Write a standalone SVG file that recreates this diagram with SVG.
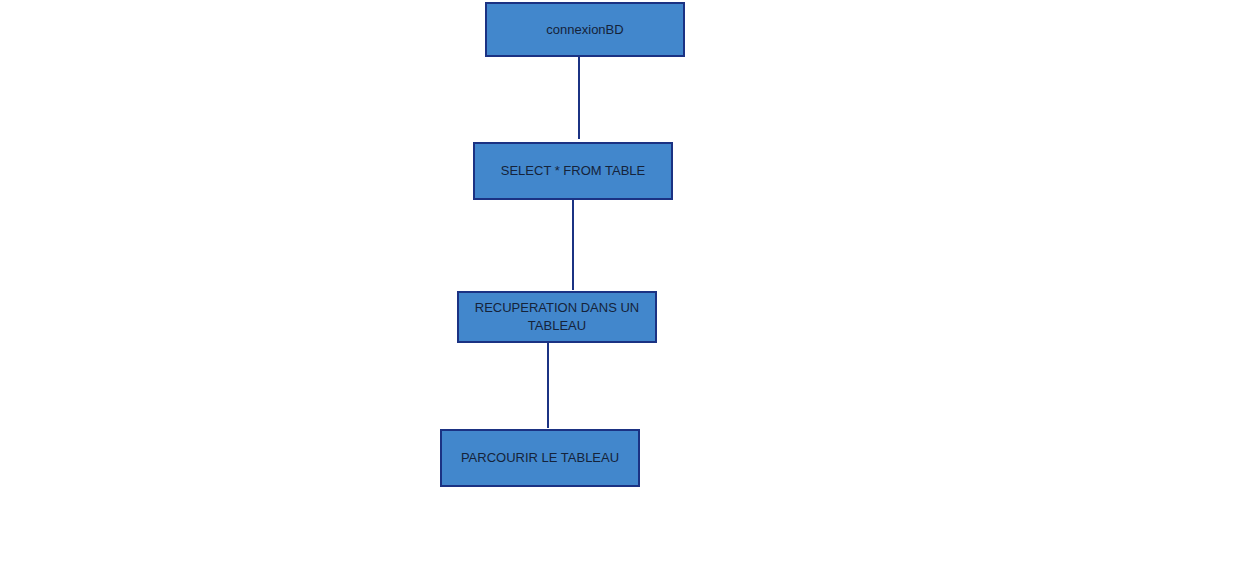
<svg xmlns="http://www.w3.org/2000/svg" width="1252" height="563" viewBox="0 0 1252 563">
<style>
.box{fill:#4287cc;stroke:#1b3283;stroke-width:2}
.lbl{font-family:"Liberation Sans",Arial,sans-serif;font-size:13px;fill:#15233a;text-anchor:middle;dominant-baseline:central}
.conn{stroke:#1b3283;stroke-width:2;fill:none}
</style>
<rect width="1252" height="563" fill="#ffffff"/>
<g id="connectors">
<line class="conn" x1="579" y1="52" x2="579" y2="139"/>
<line class="conn" x1="573" y1="199" x2="573" y2="290"/>
<line class="conn" x1="548" y1="342" x2="548" y2="428"/>
</g>
<g id="n1"><rect class="box" x="486" y="3" width="198" height="53"/><text class="lbl" x="585" y="29">connexionBD</text></g>
<g id="n2"><rect class="box" x="474" y="143" width="198" height="56"/><text class="lbl" x="573" y="170">SELECT * FROM TABLE</text></g>
<g id="n3"><rect class="box" x="458" y="292" width="198" height="50"/><text class="lbl" x="557" y="307">RECUPERATION DANS UN</text><text class="lbl" x="557" y="325">TABLEAU</text></g>
<g id="n4"><rect class="box" x="441" y="430" width="198" height="56"/><text class="lbl" x="540" y="457">PARCOURIR LE TABLEAU</text></g>
</svg>
